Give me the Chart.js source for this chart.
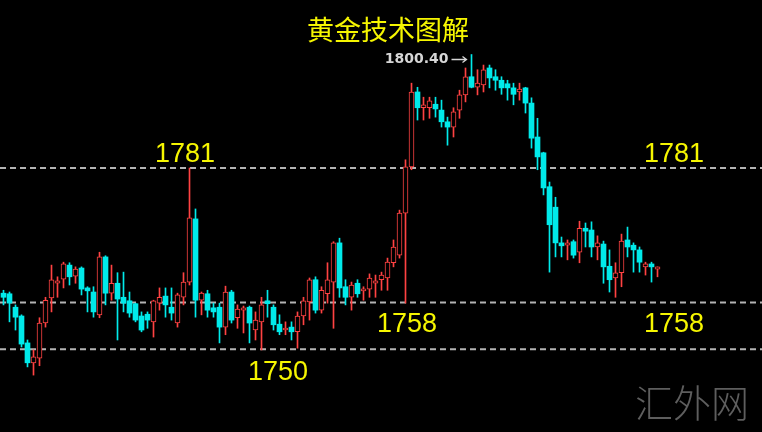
<!DOCTYPE html>
<html>
<head>
<meta charset="utf-8">
<script src="https://cdn.jsdelivr.net/npm/chart.js@4.4.1/dist/chart.umd.min.js"></script>
<style>
  html, body { margin: 0; padding: 0; background: #000; }
  #wrap { position: relative; width: 762px; height: 432px; background: #000; }
</style>
</head>
<body>
<div id="wrap"><canvas id="c"></canvas></div>
<script>
// ---- data (prices) ----
const openP = [1759.6,1759.5,1757.2,1755.7,1751.1,1747.7,1748.5,1754.5,1758.8,1761.3,
1762.0,1764.4,1762.5,1763.9,1760.5,1759.8,1755.9,1765.8,1759.6,1761.3,
1758.9,1758.3,1757.8,1755.7,1756.0,1754.7,1757.9,1759.1,1757.2,1754.5,
1758.9,1761.5,1772.3,1758.4,1759.5,1757.1,1757.2,1753.8,1759.8,1755.4,
1756.7,1757.2,1753.3,1754.7,1758.3,1757.2,1754.3,1753.3,1753.8,1753.0,
1755.7,1758.1,1761.9,1756.7,1759.5,1761.5,1768.2,1760.7,1758.9,1761.3,
1760.0,1760.3,1761.3,1761.9,1762.2,1764.8,1766.1,1773.3,1781.2,1794.0,
1791.3,1791.3,1791.9,1790.9,1788.9,1788.0,1790.9,1793.5,1796.6,1794.8,
1795.2,1798.1,1796.6,1796.0,1795.4,1794.7,1794.0,1794.7,1792.1,1786.3,
1783.6,1777.8,1774.3,1768.2,1767.8,1768.4,1766.6,1770.7,1770.4,1767.5,
1768.0,1764.2,1762.2,1763.1,1768.7,1767.8,1767.0,1764.1,1764.6,1763.7];

const highP = [1760.1,1759.8,1757.6,1755.9,1751.6,1749.9,1755.4,1758.9,1764.4,1762.4,
1764.9,1764.8,1764.1,1764.1,1760.7,1760.7,1766.6,1766.0,1764.4,1763.1,
1763.2,1759.8,1757.9,1756.4,1756.4,1758.4,1760.5,1760.5,1760.5,1759.6,
1763.1,1781.0,1774.0,1759.8,1760.1,1757.9,1757.9,1760.8,1760.1,1757.6,
1757.4,1757.4,1756.4,1758.9,1760.1,1757.6,1755.9,1754.7,1754.7,1756.4,
1758.9,1762.2,1762.4,1760.7,1764.8,1768.4,1769.0,1761.9,1761.5,1761.9,
1760.7,1762.9,1762.7,1763.2,1765.6,1768.7,1773.8,1782.4,1795.5,1794.8,
1793.1,1793.1,1793.1,1792.6,1789.7,1791.3,1794.3,1798.1,1800.4,1797.8,
1798.6,1798.6,1797.8,1796.6,1796.0,1795.5,1795.5,1794.8,1793.0,1789.5,
1783.7,1778.6,1776.0,1769.2,1768.7,1768.7,1771.9,1771.6,1771.8,1769.4,
1768.5,1767.0,1764.8,1769.7,1770.9,1768.2,1767.5,1764.9,1764.9,1764.1];

const lowP = [1757.6,1754.7,1753.3,1750.4,1747.0,1745.6,1747.2,1753.8,1756.4,1758.9,
1760.5,1761.0,1761.3,1759.3,1756.4,1755.5,1755.4,1757.6,1758.4,1751.6,
1756.4,1755.5,1754.7,1753.0,1753.6,1752.1,1756.7,1755.5,1755.0,1753.8,
1757.6,1761.0,1755.5,1755.9,1755.5,1755.5,1751.1,1752.5,1754.5,1753.6,
1752.8,1751.1,1751.6,1749.9,1755.5,1753.3,1752.5,1752.5,1751.6,1750.2,
1754.2,1755.0,1756.2,1756.2,1757.9,1753.6,1758.9,1757.6,1756.7,1758.9,
1758.4,1758.9,1758.9,1760.1,1760.1,1764.1,1765.6,1757.9,1780.7,1789.2,
1789.2,1789.5,1789.7,1788.0,1784.9,1786.3,1789.5,1792.3,1794.7,1793.5,
1794.0,1794.7,1794.3,1793.6,1792.6,1791.8,1792.6,1790.4,1784.4,1780.7,
1776.4,1763.2,1765.8,1765.8,1765.3,1765.6,1764.8,1767.5,1765.8,1765.3,
1761.3,1759.8,1758.9,1760.7,1765.8,1763.2,1763.2,1762.7,1761.5,1762.4];

const closeP = [1758.9,1757.9,1755.5,1750.9,1747.7,1748.7,1754.5,1758.4,1761.9,1761.7,
1764.6,1762.4,1763.7,1760.3,1760.0,1756.4,1765.8,1759.6,1761.3,1758.6,
1757.9,1756.2,1755.0,1753.3,1755.0,1758.3,1758.9,1757.6,1756.2,1759.3,
1761.5,1772.5,1758.4,1759.6,1756.7,1756.4,1753.8,1759.8,1755.0,1756.9,
1757.1,1754.5,1755.0,1757.6,1757.8,1754.2,1753.0,1753.6,1753.0,1755.7,
1758.3,1761.9,1756.7,1760.1,1761.9,1768.2,1760.5,1758.9,1761.0,1759.5,
1760.3,1762.2,1761.7,1762.7,1764.9,1767.5,1773.3,1781.2,1794.0,1791.3,
1791.8,1792.5,1791.1,1788.9,1788.0,1790.6,1793.5,1796.6,1794.8,1795.5,
1797.8,1796.4,1796.0,1794.7,1794.7,1793.6,1794.5,1792.1,1786.1,1782.9,
1777.6,1771.3,1768.2,1767.7,1768.2,1766.1,1770.7,1770.2,1767.5,1768.2,
1764.1,1761.9,1763.1,1768.5,1767.5,1767.0,1764.9,1764.6,1764.1,1764.1];

const levels = [1781, 1758, 1750];
const levelLabels = ['1781', '1758', '1750'];
const peakLabel = '1800.40';
const titleText = '黄金技术图解';
const watermarkText = '汇外网';

// ---- styles ----
const RED = '#ff4242';
const CYAN = '#00eaea';
const YELLOW = '#f6f600';

const idx = openP.map((_, i) => i);
const isUp = i => closeP[i] >= openP[i];

const wickData = idx.map(i => ({ x: i, y: [lowP[i], highP[i]] }));
const upBody = idx.filter(isUp).map(i => ({ x: i, y: [openP[i], closeP[i]] }));
const downBody = idx.filter(i => !isUp(i)).map(i => ({ x: i, y: [openP[i], closeP[i]] }));
const wickColors = idx.map(i => isUp(i) ? RED : CYAN);

const xMin = -0.5 - 1/12;
const xMax = xMin + 127;

const levelDatasets = levels.map(v => ({
  type: 'line',
  data: [{ x: xMin, y: v }, { x: xMax, y: v }],
  borderColor: '#b4b4b4',
  borderWidth: 2,
  borderDash: [6, 4],
  pointRadius: 0,
  order: 10,
  tension: 0
}));

const textPlugin = {
  id: 'texts',
  afterDatasetsDraw(chart) {
    const ctx = chart.ctx;
    const ys = chart.scales.y, xs = chart.scales.x;
    ctx.save();
    // title
    ctx.fillStyle = YELLOW;
    ctx.font = '27px "Noto Sans CJK SC"';
    ctx.textAlign = 'center';
    ctx.textBaseline = 'middle';
    ctx.fillText(titleText, 388, 30);

    // level labels
    ctx.font = '27px "Liberation Sans", Arial, sans-serif';
    ctx.textBaseline = 'alphabetic';
    const yA = ys.getPixelForValue(levels[0]);
    const yB = ys.getPixelForValue(levels[1]);
    const yC = ys.getPixelForValue(levels[2]);
    ctx.fillText(levelLabels[0], 185, yA - 6);
    ctx.fillText(levelLabels[0], 674, yA - 6);
    ctx.fillText(levelLabels[1], 407, yB + 29);
    ctx.fillText(levelLabels[1], 674, yB + 29);
    ctx.fillText(levelLabels[2], 278, yC + 31);

    // peak label
    let pi = 0;
    highP.forEach((h, i) => { if (h > highP[pi]) pi = i; });
    const px = xs.getPixelForValue(pi);
    const py = ys.getPixelForValue(highP[pi]) + 5;
    ctx.font = 'bold 14px "DejaVu Sans", sans-serif';
    ctx.fillStyle = '#d6d6d6';
    ctx.textAlign = 'right';
    ctx.textBaseline = 'middle';
    ctx.fillText(peakLabel, px - 23, py);
    ctx.strokeStyle = '#d6d6d6';
    ctx.lineWidth = 1.3;
    ctx.beginPath();
    ctx.moveTo(px - 20, py); ctx.lineTo(px - 5, py);
    ctx.moveTo(px - 9, py - 3); ctx.lineTo(px - 5, py); ctx.lineTo(px - 9, py + 3);
    ctx.stroke();

    // watermark
    ctx.font = '300 38px "Noto Sans CJK SC"';
    ctx.fillStyle = '#5e5e5e';
    ctx.textAlign = 'left';
    ctx.textBaseline = 'middle';
    ctx.fillText(watermarkText, 635, 403);
    ctx.restore();
  }
};

new Chart(document.getElementById('c'), {
  type: 'bar',
  data: {
    datasets: [
      {
        data: wickData,
        backgroundColor: wickColors,
        borderWidth: 0,
        barThickness: 1,
        grouped: false,
        order: 3
      },
      {
        data: upBody,
        backgroundColor: '#000',
        borderColor: RED,
        borderWidth: 1,
        borderSkipped: false,
        barThickness: 5,
        minBarLength: 2,
        grouped: false,
        order: 1
      },
      {
        data: downBody,
        backgroundColor: CYAN,
        borderColor: CYAN,
        borderWidth: 0,
        barThickness: 5,
        minBarLength: 2,
        grouped: false,
        order: 2
      },
      ...levelDatasets
    ]
  },
  options: {
    responsive: true,
    maintainAspectRatio: false,
    animation: false,
    layout: { padding: 0 },
    plugins: { legend: { display: false }, tooltip: { enabled: false }, title: { display: false } },
    scales: {
      x: { type: 'linear', min: xMin, max: xMax, offset: false, display: false },
      y: { type: 'linear', min: 1735.87, max: 1809.72, display: false }
    }
  },
  plugins: [textPlugin]
});
</script>
</body>
</html>
